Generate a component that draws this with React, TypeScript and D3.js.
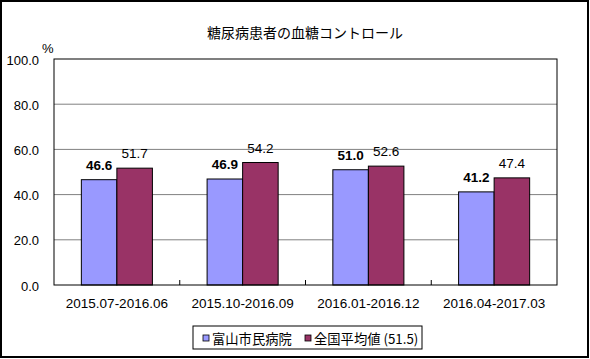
import * as d3 from "d3";

const categories = ["2015.07-2016.06", "2015.10-2016.09", "2016.01-2016.12", "2016.04-2017.03"];
const hospital = [46.6, 46.9, 51.0, 41.2];
const national = [51.7, 54.2, 52.6, 47.4];
const yTicks = [0, 20, 40, 60, 80, 100];
const seriesNames = ["富山市民病院", "全国平均値 (51.5)"];
const seriesColors = ["#9999ff", "#993366"];

const W = 590;
const H = 359;
const MARGIN = {top: 59, right: 33, bottom: 74, left: 54};
const FONT = "'Liberation Sans', Arial, 'Noto Sans CJK JP', sans-serif";

export default function App() {
    const boundsWidth = W - MARGIN.left - MARGIN.right;
    const boundsHeight = H - MARGIN.top - MARGIN.bottom;

    const xScale = d3.scaleBand().domain(categories).range([0, boundsWidth]).paddingInner(0).paddingOuter(0);
    const yScale = d3.scaleLinear().domain([0, 100]).range([boundsHeight, 0]);

    // bars take ~56% of each category, split between the two series
    const groupWidth = xScale.bandwidth() * 0.565;
    const inner = d3.scaleBand().domain(["0", "1"]).range([0, groupWidth]);
    const series = [hospital, national];

    const bars = categories.map((c, i) => {
        const gx = (xScale(c) ?? 0) + (xScale.bandwidth() - groupWidth) / 2;
        return series.map((vals, s) => {
            const x = gx + (inner(String(s)) ?? 0);
            const y = yScale(vals[i]);
            return (
                <g key={`${i}-${s}`}>
                    <rect
                        x={x}
                        y={y}
                        width={inner.bandwidth()}
                        height={boundsHeight - y}
                        fill={seriesColors[s]}
                        stroke="#000"
                        strokeWidth={1}
                    />
                    <text
                        x={x + inner.bandwidth() / 2}
                        y={y - 14.5}
                        textAnchor="middle"
                        dominantBaseline="central"
                        fontSize={13.5}
                        fontWeight={s === 0 ? "bold" : "normal"}
                        fill="#000"
                    >
                        {vals[i].toFixed(1)}
                    </text>
                </g>
            );
        });
    });

    return (
        <svg
            width={W}
            height={H}
            style={{position: "absolute", left: 0, top: 0, fontFamily: FONT}}
        >
            <rect x={0} y={0} width={W} height={H} fill="#fff" />
            <rect x={1} y={1} width={587} height={356} fill="#fff" stroke="#000" strokeWidth={2} />
            <text x={305} y={32} textAnchor="middle" dominantBaseline="central" fontSize={14} fontFamily="'Noto Sans CJK JP', sans-serif">
                糖尿病患者の血糖コントロール
            </text>
            <text x={42} y={48} fontSize={13} dominantBaseline="central">%</text>
            <g transform={`translate(${MARGIN.left},${MARGIN.top})`}>
                {yTicks.map((t) => (
                    <g key={t}>
                        {t > 0 && t < 100 && (
                            <line x1={0} x2={boundsWidth} y1={yScale(t)} y2={yScale(t)} stroke="#808080" />
                        )}
                        <text
                            x={-15}
                            y={yScale(t) + 1}
                            textAnchor="end"
                            dominantBaseline="central"
                            fontSize={13}
                        >
                            {t.toFixed(1)}
                        </text>
                    </g>
                ))}
                {categories.slice(1).map((c) => (
                    <line
                        key={c}
                        x1={xScale(c)}
                        x2={xScale(c)}
                        y1={boundsHeight}
                        y2={boundsHeight - 5}
                        stroke="#000"
                    />
                ))}
                {bars}
                <rect x={0} y={0} width={boundsWidth} height={boundsHeight} fill="none" stroke="#000" />
                {categories.map((c) => (
                    <text
                        key={c}
                        x={(xScale(c) ?? 0) + xScale.bandwidth() / 2}
                        y={boundsHeight + 18}
                        textAnchor="middle"
                        dominantBaseline="central"
                        fontSize={13.5}
                    >
                        {c}
                    </text>
                ))}
            </g>
            <g transform="translate(193,326)">
                <rect x={0} y={0} width={229} height={23} fill="#fff" stroke="#000" />
                {seriesNames.map((name, i) => {
                    const lx = i === 0 ? 10 : 112;
                    return (
                        <g key={name} transform={`translate(${lx},0)`}>
                            <rect x={0} y={9} width={6} height={6} fill={seriesColors[i]} stroke="#000" strokeWidth={0.8} />
                            <text x={9} y={12.5} dominantBaseline="central" fontSize={13.3} fontFamily="'Noto Sans CJK JP', sans-serif">
                                {name}
                            </text>
                        </g>
                    );
                })}
            </g>
        </svg>
    );
}
